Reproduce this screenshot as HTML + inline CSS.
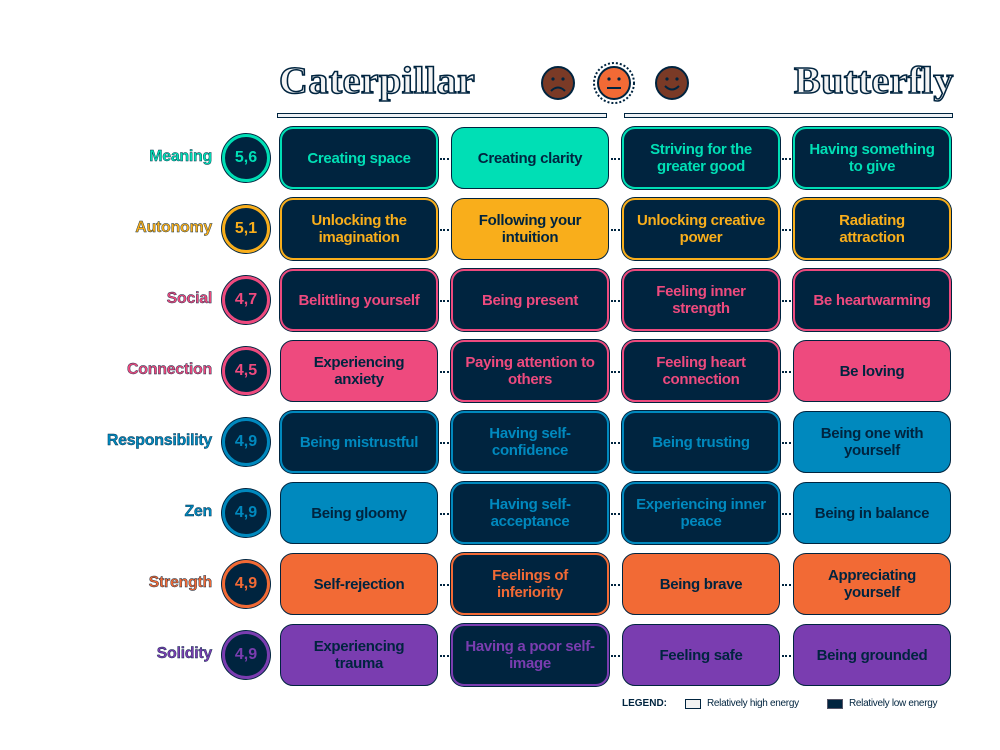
<!DOCTYPE html>
<html><head><meta charset="utf-8"><style>
body{margin:0;width:1000px;height:750px;background:#fff;position:relative;overflow:hidden;font-family:"Liberation Sans",sans-serif}
.box{position:absolute;width:158px;height:62px;border-radius:13px;display:flex;align-items:center;justify-content:center;text-align:center;font-weight:bold;font-size:15px;line-height:17px;box-sizing:border-box;padding:0 6px;letter-spacing:-0.3px}
.d{background:#00243f;border:2.5px solid;box-shadow:0 0 0 1px #00243f}
.f{border:1px solid #00243f;color:#00243f}
.lab{position:absolute;right:788px;font-weight:bold;font-size:16px;-webkit-text-stroke:0.4px #00243f;text-align:right;letter-spacing:-0.3px}
.c{position:absolute;width:42px;height:42px;border-radius:50%;background:#00243f;border:3px solid;box-shadow:0 0 0 1px #00243f;display:flex;align-items:center;justify-content:center;font-weight:bold;font-size:16px}
.dot{position:absolute;height:0;border-top:2px dotted #00243f;width:9px}
.h{position:absolute;font-family:"Liberation Serif",serif;font-weight:bold;font-size:38px;color:#f4f4f4;-webkit-text-stroke:1.5px #00243f;letter-spacing:0.5px;transform-origin:left top}
.ln{position:absolute;height:3px;background:#eef1f4;border:1px solid #00243f;top:113px}
</style></head><body>
<div class="h" style="left:279px;top:59px;transform:scaleX(1.05)">Caterpillar</div>
<div class="h" style="left:794px;top:59px;transform:scaleX(1.05)">Butterfly</div>
<div class="ln" style="left:277px;width:328px"></div>
<div class="ln" style="left:624px;width:327px"></div>
<svg style="position:absolute;left:535px;top:60px" width="160" height="50">
<g stroke="#00243f" stroke-width="2" fill="none">
<circle cx="23" cy="23" r="16" fill="#7a3a26"/>
<circle cx="79" cy="23" r="16" fill="#f26a35"/>
<circle cx="79" cy="23" r="20" stroke-dasharray="2 2"/>
<circle cx="137" cy="23" r="16" fill="#7a3a26"/>
<path d="M16 31 Q23 24 30 31"/><path d="M72 28 H86"/><path d="M130 26 Q137 33 144 26"/>
</g>
<g fill="#00243f"><circle cx="18" cy="19" r="1.6"/><circle cx="28" cy="19" r="1.6"/><circle cx="74" cy="19" r="1.6"/><circle cx="84" cy="19" r="1.6"/><circle cx="132" cy="19" r="1.6"/><circle cx="142" cy="19" r="1.6"/></g>
</svg>
<div id="g"></div>
<div style="position:absolute;left:622px;top:698px;font-size:10px;font-weight:bold;color:#00243f;white-space:nowrap">LEGEND:</div>
<div style="position:absolute;left:685px;top:699px;width:14px;height:8px;border:1px solid #00243f;background:#f2f2f2"></div>
<div style="position:absolute;left:707px;top:698px;font-size:10px;color:#00243f;white-space:nowrap;letter-spacing:-0.3px">Relatively high energy</div>
<div style="position:absolute;left:827px;top:699px;width:14px;height:8px;border:1px solid #556;background:#00243f"></div>
<div style="position:absolute;left:849px;top:698px;font-size:10px;color:#00243f;white-space:nowrap;letter-spacing:-0.3px">Relatively low energy</div>
<script>
var rows=[
["Meaning","5,6","#00dfb5","DFDD",["Creating space","Creating clarity","Striving for the greater good","Having something to give"]],
["Autonomy","5,1","#f9ae1b","DFDD",["Unlocking the imagination","Following your intuition","Unlocking creative power","Radiating<br>attraction"]],
["Social","4,7","#ee4a7e","DDDD",["Belittling yourself","Being present","Feeling inner strength","Be heartwarming"]],
["Connection","4,5","#ee4a7e","FDDF",["Experiencing anxiety","Paying attention to others","Feeling heart connection","Be loving"]],
["Responsibility","4,9","#0089be","DDDF",["Being mistrustful","Having self-confidence","Being trusting","Being one with yourself"]],
["Zen","4,9","#0089be","FDDF",["Being gloomy","Having self-acceptance","Experiencing inner peace","Being in balance"]],
["Strength","4,9","#f26a35","FDFF",["Self-rejection","Feelings of inferiority","Being brave","Appreciating yourself"]],
["Solidity","4,9","#7a3db0","FDFF",["Experiencing<br>trauma","Having a poor self-image","Feeling safe","Being grounded"]]];
var xs=[280,451,622,793],h="";
rows.forEach(function(r,i){var t=127+i*71;var col=r[2];
h+='<div class="lab" style="top:'+(t+21)+'px;color:'+col+'">'+r[0]+'</div>';
h+='<div class="c" style="left:222px;top:'+(t+7)+'px;border-color:'+col+';color:'+col+'">'+r[1]+'</div>';
for(var j=0;j<4;j++){var f=r[3][j]=="F";
h+='<div class="box '+(f?'f':'d')+'" style="left:'+xs[j]+'px;top:'+t+'px;'+(f?'background:'+col:'border-color:'+col+';color:'+col)+'">'+r[4][j]+'</div>';
if(j<3)h+='<div class="dot" style="left:'+(xs[j]+160)+'px;top:'+(t+31)+'px"></div>';}
});
document.getElementById('g').innerHTML=h;
</script>
</body></html>
